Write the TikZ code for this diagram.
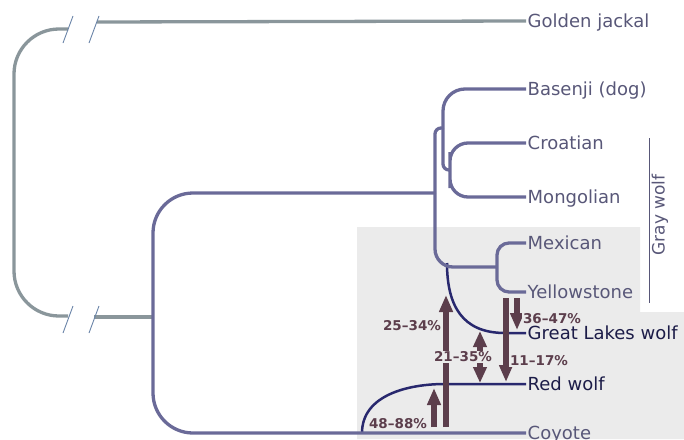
\documentclass[tikz,border=0pt]{standalone}
\usepackage{fontspec}
\setmainfont{DejaVu Sans}
\usepackage{xcolor}
\usepackage{tikz}
\usetikzlibrary{arrows.meta}

\definecolor{jackalgray}{RGB}{138,150,155}
\definecolor{treeblue}{RGB}{106,106,152}
\definecolor{wolfnavy}{RGB}{40,40,110}
\definecolor{labgray}{RGB}{88,87,120}
\definecolor{darklab}{RGB}{28,28,72}
\definecolor{flowbrown}{RGB}{92,62,76}
\definecolor{boxgray}{RGB}{235,235,235}
\definecolor{slashblue}{RGB}{106,132,168}

\begin{document}
\begin{tikzpicture}[x=1pt, y=-1pt,
    taxon/.style = {anchor=west, inner xsep=1.5pt, inner ysep=0pt, text height=13pt, text depth=0pt, text=labgray, font=\fontsize{18pt}{20pt}\selectfont},
    hybrid/.style = {taxon, text=darklab},
    pct/.style = {inner sep=1pt, fill=boxgray, text=flowbrown, font=\bfseries\fontsize{13.5pt}{15pt}\selectfont},
    outgroup/.style = {jackalgray, line width=3.3pt},
    branch/.style = {treeblue, line width=3.3pt},
    mixed/.style = {wolfnavy, line width=2.5pt},
    flow/.style = {flowbrown, line width=6pt, -{Triangle[width=13pt,length=17pt]}},
    flowboth/.style = {flowbrown, line width=6pt, {Triangle[width=13pt,length=16pt]}-{Triangle[width=13pt,length=16pt]}}]
    \useasboundingbox (0,0) rectangle (684,439);

    \fill[boxgray] (357,227) -| (640,312) -| (684,439) -| (357,227);

    \node[taxon]  (jackal)     at (526,21)  {Golden jackal};
    \node[taxon]  (basenji)    at (526,89)  {Basenji (dog)};
    \node[taxon]  (croatian)   at (526,143) {Croatian};
    \node[taxon]  (mongolian)  at (526,197) {Mongolian};
    \node[taxon]  (mexican)    at (526,243) {Mexican};
    \node[taxon]  (yellow)     at (526,292) {Yellowstone};
    \node[hybrid] (greatlakes) at (526,333) {Great Lakes wolf};
    \node[hybrid] (redwolf)    at (526,384) {Red wolf};
    \node[taxon]  (coyote)     at (526,433) {Coyote};
    \node[rotate=90, text=labgray, font=\fontsize{17pt}{19pt}\selectfont] (graywolf) at (660,215) {Gray wolf};

    \coordinate (root)   at (153,317);
    \coordinate (dogs)   at (435,193);
    \coordinate (basB)   at (443,128);
    \coordinate (cm)     at (450,170);
    \coordinate (mexyel) at (497,267);
    \coordinate (glbase) at (447,263);
    \coordinate (glend)  at (505,333);
    \coordinate (rwbase) at (362,433);
    \coordinate (rwend)  at (445,384);
    \coordinate (gw1)    at (649,138);
    \coordinate (gw2)    at (649,303);

    \draw[labgray, line width=1pt] (gw1) -- (gw2);

    \draw[outgroup] (jackal.west) -- (97,22);
    \draw[outgroup, rounded corners=45pt] (68,29) -| (14,170) |- (68,316);
    \draw[outgroup] (94,317) -- (root);
    \foreach \x/\y in {68/29, 94/29, 68/319, 94/319}
        \draw[slashblue, line width=0.9pt] ({\x-5},{\y+14}) -- ({\x+5},{\y-13});

    \draw[mixed] (glbase) to[out=-90, in=180, looseness=1.2] (glend) -- (greatlakes.west);
    \draw[mixed] (rwbase) to[out=90, in=180] (rwend) -- (redwolf.west);

    \draw[branch, rounded corners=40pt] (dogs) -| (root) |- (coyote.west);
    \draw[branch, rounded corners=6pt] (basB) -| (dogs);
    \draw[branch, rounded corners=18pt] (dogs) |- (mexyel);
    \draw[branch, rounded corners=22pt] (basB) |- (basenji.west);
    \draw[branch, rounded corners=6pt] (basB) |- (cm);
    \draw[branch, rounded corners=18pt] (croatian.west) -| (cm) |- (mongolian.west);
    \draw[branch, rounded corners=12pt] (mexican.west) -| (mexyel) |- (yellow.west);

    \coordinate (a1) at (446,427);
    \coordinate (b1) at (446,295);
    \coordinate (a2) at (434,427);
    \coordinate (b2) at (434,388);
    \coordinate (a3) at (480,331);
    \coordinate (b3) at (480,383);
    \coordinate (a4) at (506,298);
    \coordinate (b4) at (506,382);
    \coordinate (a5) at (517,298);
    \coordinate (b5) at (517,330);

    \draw[flow] (a1) -- (b1);
    \draw[flow] (a2) -- (b2);
    \draw[flowboth] (a3) -- (b3);
    \draw[flow] (a4) -- (b4);
    \draw[flow] (a5) -- (b5);

    \node[pct] (p1) at (412,326) {25–34\%};
    \node[pct] (p2) at (398,424) {48–88\%};
    \node[pct] (p3) at (463,357) {21–35\%};
    \node[pct] (p4) at (539,361) {11–17\%};
    \node[pct] (p5) at (552,319) {36–47\%};
\end{tikzpicture}
\end{document}
